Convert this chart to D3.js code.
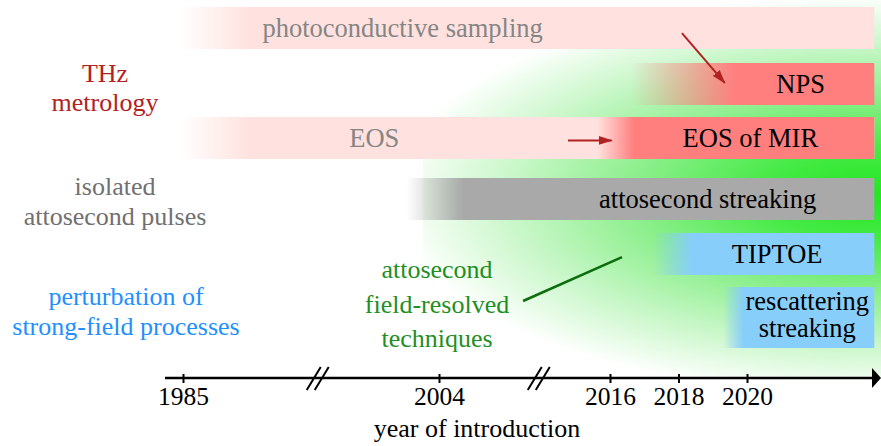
<!DOCTYPE html>
<html>
<head>
<meta charset="utf-8">
<script src="https://cdn.jsdelivr.net/npm/d3@7/dist/d3.min.js"></script>
<style>
	body { margin: 0; background: #fff; }
	svg { display: block; }
	text { font-family: "Liberation Serif"; }
</style>
</head>
<body>
<svg id="chart" width="881" height="446"></svg>
<script>
// axis
const tickYears = [1985, 2004, 2016, 2018, 2020];
const breakYears = [1995, 2011];
const axisTitle = "year of introduction";

// bars: lane, fade-in start, fully opaque from, end (years)
const barNames = ["photoconductive sampling", "NPS", "EOS", "EOS of MIR", "attosecond streaking", "TIPTOE", "rescattering\nstreaking"];
const barLane = [0, 1, 2, 2, 3, 4, 5];
const barFrom = [1984.8, 2016.6, 1984.8, 2015.1, 2001.6, 2017.25, 2019.3];
const barSolid = [1990, 2019.65, 1990, 2016.7, 2005.7, 2018.4, 2019.9];
const barTo = [2023.8, 2023.8, 2023.8, 2023.8, 2023.8, 2023.8, 2023.8];
const barKind = ["old", "thz", "old", "thz", "iap", "psf", "psf"];
const labelYear = [2001.3, 2021.6, 1999.2, 2020.1, 2018.85, 2020.9, 2021.8];

// lane line counts (taller lane for two-line label)
const laneLines = [1, 1, 1, 1, 1, 2];

// group labels on the left
const groupNames = [["THz", "metrology"], ["isolated", "attosecond pulses"], ["perturbation of", "strong-field processes"]];
const groupKind = ["thz", "iap", "psf"];
const fieldText = ["attosecond", "field-resolved", "techniques"];

const colors = {
	old: "#ffe2df", thz: "#ff7f7f", iap: "#a9a9a9", psf: "#87cefa",
	oldText: "#858585", thzText: "#b22222", iapText: "#707070", psfText: "#1e90ff",
	field: "#1f8f1f", fieldLine: "#0c6f0c", arrow: "#b22222"
};
const serif = "Liberation Serif";

const svg = d3.select("#chart");
const defs = svg.append("defs");

const x = d3.scaleLinear()
	.domain([1984, 1985, 2004, 2016, 2020, 2024])
	.range([165, 183, 439, 610, 747, 881]);

// lane geometry by stacking
const barH = 42, lineH = 19;
const gaps = [14, 12, 19, 13, 12];
let yCursor = 7;
const laneTop = [], laneH = [];
laneLines.forEach((n, i) => {
	laneTop.push(yCursor);
	laneH.push(barH + (n - 1) * lineH);
	yCursor += barH + (n - 1) * lineH + (gaps[i] || 0);
});
const laneY = d3.scaleLinear()
	.domain(d3.range(laneLines.length))
	.range(laneTop.map((t, i) => t + laneH[i] / 2));

const axisY = 378;

// green glow behind the new techniques
const glow = defs.append("radialGradient").attr("id", "glow");
[[0, "#22e622"], [0.22, "#45ea45"], [0.5, "#8eef8e"], [0.76, "#cbf7cb"], [1, "#ffffff"]]
	.forEach(([o, c]) => glow.append("stop").attr("offset", o).attr("stop-color", c));
defs.append("clipPath").attr("id", "glowClip")
	.append("rect")
	.attr("x", 423).attr("y", 0)
	.attr("width", 881 - 423).attr("height", axisY);
const gcx = 870, gcy = 195, grx = 480, gry = 200;
svg.append("rect")
	.attr("clip-path", "url(#glowClip)")
	.attr("x", gcx - grx).attr("y", gcy - gry)
	.attr("width", 2 * grx).attr("height", 2 * gry)
	.attr("fill", "url(#glow)");

// bars with faded left ends
barNames.forEach((name, i) => {
	const id = "fade" + i;
	const lg = defs.append("linearGradient").attr("id", id)
		.attr("gradientUnits", "userSpaceOnUse")
		.attr("x1", x(barFrom[i])).attr("x2", x(barSolid[i]))
		.attr("y1", 0).attr("y2", 0);
	lg.append("stop").attr("offset", 0).attr("stop-color", colors[barKind[i]]).attr("stop-opacity", 0);
	lg.append("stop").attr("offset", 1).attr("stop-color", colors[barKind[i]]).attr("stop-opacity", 1);
	const ln = barLane[i];
	svg.append("rect")
		.attr("x", x(barFrom[i]))
		.attr("y", laneTop[ln])
		.attr("width", x(barTo[i]) - x(barFrom[i]))
		.attr("height", laneH[ln])
		.attr("fill", "url(#" + id + ")");
});

// bar labels
barNames.forEach((name, i) => {
	const lines = name.split("\n");
	const cy = laneY(barLane[i]);
	const t = svg.append("text")
		.attr("x", x(labelYear[i]))
		.attr("text-anchor", "middle")
		.attr("font-family", serif)
		.attr("font-size", 26.5)
		.attr("fill", barKind[i] === "old" ? colors.oldText : "#000");
	lines.forEach((l, k) => {
		t.append("tspan")
			.attr("x", x(labelYear[i]))
			.attr("y", cy + 9 + (k - (lines.length - 1) / 2) * 27 - (lines.length - 1) * 3)
			.text(l);
	});
});

// group labels
const groupPos = [{x: 105, lane: 1.065}, {x: 115, lane: 3.04}, {x: 126, lane: 4.9}];
groupNames.forEach((lines, i) => {
	const cy = laneY(groupPos[i].lane);
	const t = svg.append("text")
		.attr("text-anchor", "middle")
		.attr("font-family", serif)
		.attr("font-size", 26)
		.attr("fill", colors[groupKind[i] + "Text"]);
	lines.forEach((l, k) => {
		t.append("tspan")
			.attr("x", groupPos[i].x)
			.attr("y", cy + 9 + (k - 0.5) * 29.5)
			.text(l);
	});
});

// field-resolved annotation
const ft = svg.append("text")
	.attr("text-anchor", "middle")
	.attr("font-family", serif)
	.attr("font-size", 26)
	.attr("fill", colors.field);
fieldText.forEach((l, k) => {
	ft.append("tspan").attr("x", 437).attr("y", 278 + k * 34.5).text(l);
});
svg.append("line")
	.attr("x1", x(2009.9)).attr("y1", laneY(4.74))
	.attr("x2", x(2016.35)).attr("y2", laneY(4.05))
	.attr("stroke", colors.fieldLine)
	.attr("stroke-width", 2.5);

// arrows
defs.append("marker").attr("id", "head")
	.attr("viewBox", "0 -5 14 10")
	.attr("refX", 13).attr("refY", 0)
	.attr("markerUnits", "userSpaceOnUse")
	.attr("markerWidth", 14).attr("markerHeight", 10)
	.attr("orient", "auto")
	.append("path").attr("d", "M0,-4.5L14,0L0,4.5Z").attr("fill", colors.arrow);
const arrows = [[[2018.1, 0.09], [2019.35, 0.98]], [[2013.05, 2.04], [2016.05, 2.04]]];
arrows.forEach(([a, b]) => {
	svg.append("line")
		.attr("x1", x(a[0])).attr("y1", laneY(a[1]))
		.attr("x2", x(b[0])).attr("y2", laneY(b[1]))
		.attr("stroke", colors.arrow)
		.attr("stroke-width", 2)
		.attr("marker-end", "url(#head)");
});

// axis
const gx = svg.append("g")
	.attr("transform", "translate(0," + axisY + ")")
	.call(d3.axisBottom(x).tickValues(tickYears).tickFormat(d3.format("d")).tickSizeOuter(0));
gx.attr("font-family", serif);
gx.select(".domain").remove();
gx.selectAll(".tick line").attr("y1", -4).attr("y2", 5).attr("stroke-width", 2);
gx.selectAll(".tick text")
	.attr("y", 27).attr("dy", 0)
	.attr("font-size", 25.5)
	.attr("font-family", serif)
	.attr("fill", "#000");
gx.append("line")
	.attr("x1", x(1984)).attr("x2", x(2024) - 8)
	.attr("stroke", "#000").attr("stroke-width", 2.5);
gx.append("path")
	.attr("d", d3.line()([[x(2024) - 9, -10], [x(2024), 0], [x(2024) - 9, 10]]) + "Z")
	.attr("fill", "#000");
breakYears.forEach(yr => {
	[-4, 4].forEach(off => {
		gx.append("line")
			.attr("x1", x(yr) + off - 7).attr("y1", 12)
			.attr("x2", x(yr) + off + 7).attr("y2", -11)
			.attr("stroke", "#000").attr("stroke-width", 2);
	});
});
svg.append("text")
	.attr("x", 477).attr("y", 437)
	.attr("text-anchor", "middle")
	.attr("font-family", serif)
	.attr("font-size", 26)
	.text(axisTitle);
</script>
</body>
</html>
